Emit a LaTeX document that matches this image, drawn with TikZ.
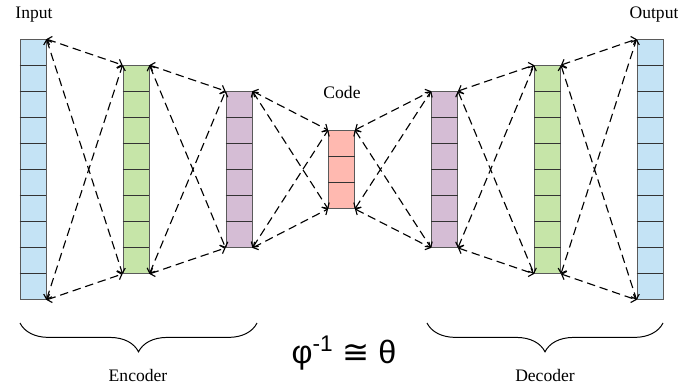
\documentclass[tikz,border=0pt]{standalone}
\usepackage{fontspec}
\setmainfont{Liberation Serif}
\newfontfamily\eqfont{Liberation Sans}
\newfontfamily\congfont{DejaVu Sans}
\usepackage{tikz}
\usetikzlibrary{
  arrows.meta,
  calc,
  positioning,
  decorations.pathreplacing
}
\definecolor{aeIn}{HTML}{C4E3F5}
\definecolor{aeEnc}{HTML}{C6E5A8}
\definecolor{aeMid}{HTML}{D5BDD5}
\definecolor{aeCode}{HTML}{FFB9B0}
\definecolor{aeEdge}{HTML}{5A5A5A}
\tikzset{
  layer/.style={
    draw=aeEdge, line width=0.6pt, minimum width=6.5mm, inner sep=0pt
  },
  cellline/.style={line width=0.6pt, black!80},
  link/.style={
    {Straight Barb[length=1mm, width=2.2mm]}-{Straight Barb[length=1mm, width=2.2mm]},
    line width=0.8pt, dash pattern=on 2.1mm off 1.2mm, black
  },
  lbl/.style={font=\fontsize{12.5}{14}\selectfont, inner sep=1pt},
  brace/.style={decorate, decoration={brace, amplitude=7.2mm}, line width=0.7pt}
}

\begin{document}
\begin{tikzpicture}[x=0.25mm, y=-0.25mm]
  \useasboundingbox (0,0) rectangle (678,384);
  % layers
  \foreach \name/\x/\n/\col in {inp/33/10/aeIn, enc1/136/8/aeEnc, enc2/239/6/aeMid,
      code/341.5/3/aeCode, dec1/444.5/6/aeMid, dec2/547.5/8/aeEnc, out/650/10/aeIn}{
    \node[layer, fill=\col, minimum height=\n*6.5mm] (\name) at (\x,169.5) {};
    \pgfmathtruncatemacro\last{\n-1}
    \foreach \k in {1,...,\last}{
      \draw[cellline] ($(\name.north west)!\k/\n!(\name.south west)$)
        -- ($(\name.north east)!\k/\n!(\name.south east)$);
    }
  }
  % connections
  \foreach \a/\b in {inp/enc1, enc1/enc2, enc2/code, code/dec1, dec1/dec2, dec2/out}{
    \draw[link] (\a.north east) -- (\b.north west);
    \draw[link] (\a.south east) -- (\b.south west);
    \draw[link] (\a.north east) -- (\b.south west);
    \draw[link] (\a.south east) -- (\b.north west);
  }
  % labels
  \node[lbl] (inlbl) at (34,15) {Input};
  \node[lbl] (outlbl) at (654,15) {Output};
  \node[lbl] (codelbl) at (342,92) {Code};
  \draw[brace] (257,323) -- (20,323);
  \draw[brace] (663,323) -- (427,323);
  \node[lbl] (enclbl) at (138,375) {Encoder};
  \node[lbl] (declbl) at (545,375) {Decoder};
  \node[inner sep=0pt] (eq) at (344,353)
    {\eqfont\fontsize{23}{27}\selectfont φ\textsuperscript{-1} {\congfont ≅} θ};
\end{tikzpicture}
\end{document}
